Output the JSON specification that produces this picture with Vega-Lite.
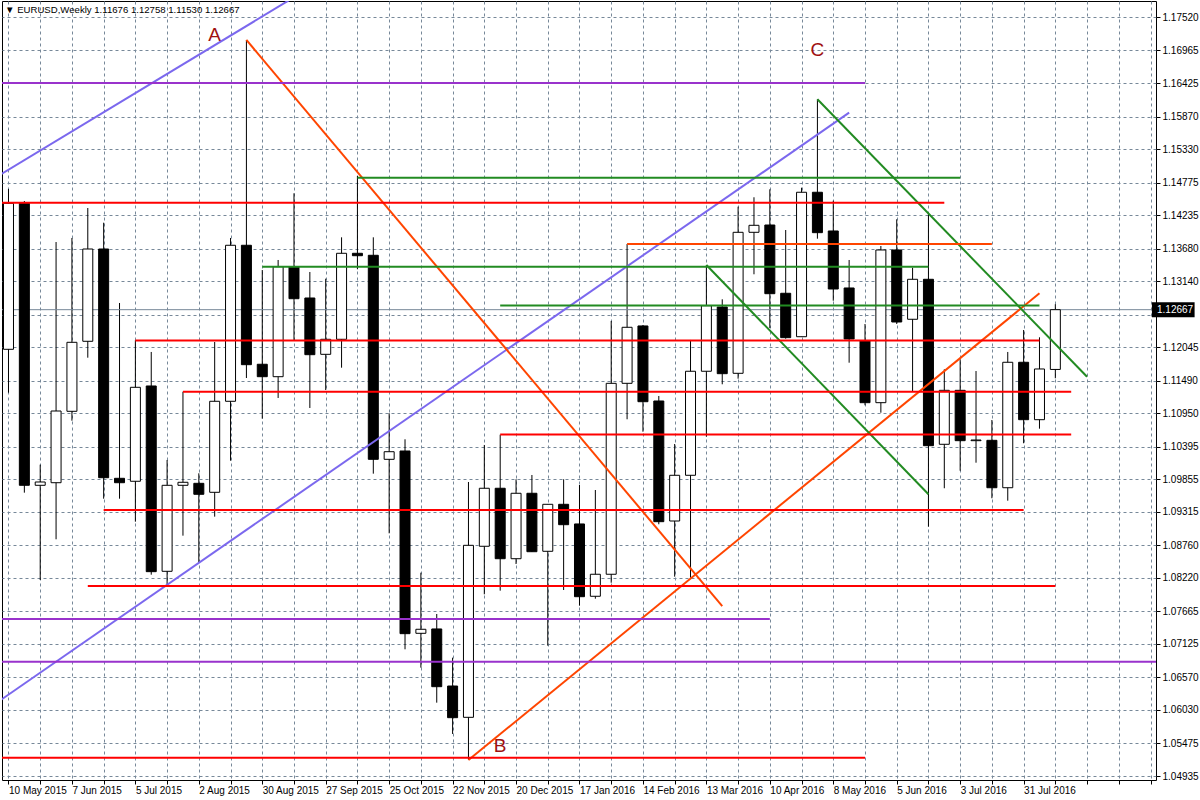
{
  "$schema": "https://vega.github.io/schema/vega-lite/v6.json",
  "width": 1154,
  "height": 779,
  "autosize": {"type": "none"},
  "padding": {"left": 2, "top": 1, "right": 44, "bottom": 20},
  "background": "white",
  "title": {
    "text": "▼ EURUSD,Weekly  1.11676 1.12758 1.11530 1.12667",
    "anchor": "start",
    "frame": "group",
    "orient": "top",
    "offset": -14,
    "dx": 3,
    "font": "Liberation Sans",
    "fontSize": 9.6,
    "fontWeight": "normal",
    "color": "black"
  },
  "datasets": {
    "candles": [
      {"d": "2015-05-10", "o": 1.12010, "h": 1.14668, "l": 1.11291, "c": 1.14431},
      {"d": "2015-05-17", "o": 1.14441, "h": 1.14469, "l": 1.09633, "c": 1.09755},
      {"d": "2015-05-24", "o": 1.09755, "h": 1.10097, "l": 1.08185, "c": 1.09810},
      {"d": "2015-05-31", "o": 1.09798, "h": 1.13789, "l": 1.08860, "c": 1.10987},
      {"d": "2015-06-07", "o": 1.10982, "h": 1.13856, "l": 1.10826, "c": 1.12126},
      {"d": "2015-06-14", "o": 1.12143, "h": 1.14353, "l": 1.11871, "c": 1.13673},
      {"d": "2015-06-21", "o": 1.13673, "h": 1.14109, "l": 1.09533, "c": 1.09881},
      {"d": "2015-06-28", "o": 1.09871, "h": 1.12778, "l": 1.09533, "c": 1.09798},
      {"d": "2015-07-05", "o": 1.09822, "h": 1.12160, "l": 1.09152, "c": 1.11380},
      {"d": "2015-07-12", "o": 1.11402, "h": 1.11966, "l": 1.08273, "c": 1.08323},
      {"d": "2015-07-19", "o": 1.08329, "h": 1.10175, "l": 1.08102, "c": 1.09755},
      {"d": "2015-07-26", "o": 1.09755, "h": 1.11307, "l": 1.08920, "c": 1.09805},
      {"d": "2015-08-02", "o": 1.09788, "h": 1.09954, "l": 1.08472, "c": 1.09606},
      {"d": "2015-08-09", "o": 1.09639, "h": 1.12131, "l": 1.09235, "c": 1.11148},
      {"d": "2015-08-16", "o": 1.11148, "h": 1.13856, "l": 1.10163, "c": 1.13735},
      {"d": "2015-08-23", "o": 1.13735, "h": 1.17139, "l": 1.11534, "c": 1.11755},
      {"d": "2015-08-30", "o": 1.11762, "h": 1.13325, "l": 1.10860, "c": 1.11556},
      {"d": "2015-09-06", "o": 1.11556, "h": 1.13491, "l": 1.11203, "c": 1.13380},
      {"d": "2015-09-13", "o": 1.13380, "h": 1.14597, "l": 1.12165, "c": 1.12849},
      {"d": "2015-09-20", "o": 1.12861, "h": 1.13292, "l": 1.11037, "c": 1.11921},
      {"d": "2015-09-27", "o": 1.11927, "h": 1.13181, "l": 1.11335, "c": 1.12176},
      {"d": "2015-10-04", "o": 1.12176, "h": 1.13867, "l": 1.11705, "c": 1.13602},
      {"d": "2015-10-11", "o": 1.13602, "h": 1.14884, "l": 1.13337, "c": 1.13562},
      {"d": "2015-10-18", "o": 1.13569, "h": 1.13867, "l": 1.09948, "c": 1.10186},
      {"d": "2015-10-25", "o": 1.10186, "h": 1.10949, "l": 1.08959, "c": 1.10312},
      {"d": "2015-11-01", "o": 1.10324, "h": 1.10518, "l": 1.07036, "c": 1.07295},
      {"d": "2015-11-08", "o": 1.07301, "h": 1.08306, "l": 1.06731, "c": 1.07368},
      {"d": "2015-11-15", "o": 1.07373, "h": 1.07621, "l": 1.06151, "c": 1.06416},
      {"d": "2015-11-22", "o": 1.06427, "h": 1.06897, "l": 1.05632, "c": 1.05902},
      {"d": "2015-11-29", "o": 1.05908, "h": 1.09810, "l": 1.05200, "c": 1.08760},
      {"d": "2015-12-06", "o": 1.08744, "h": 1.10424, "l": 1.07948, "c": 1.09706},
      {"d": "2015-12-13", "o": 1.09706, "h": 1.10594, "l": 1.08008, "c": 1.08538},
      {"d": "2015-12-20", "o": 1.08538, "h": 1.09855, "l": 1.08450, "c": 1.09623},
      {"d": "2015-12-27", "o": 1.09623, "h": 1.09926, "l": 1.08649, "c": 1.08654},
      {"d": "2016-01-03", "o": 1.08661, "h": 1.09440, "l": 1.07096, "c": 1.09440},
      {"d": "2016-01-10", "o": 1.09440, "h": 1.09855, "l": 1.08019, "c": 1.09102},
      {"d": "2016-01-17", "o": 1.09114, "h": 1.09760, "l": 1.07759, "c": 1.07908},
      {"d": "2016-01-24", "o": 1.07915, "h": 1.09677, "l": 1.07875, "c": 1.08280},
      {"d": "2016-01-31", "o": 1.08280, "h": 1.12480, "l": 1.08140, "c": 1.11446},
      {"d": "2016-02-07", "o": 1.11446, "h": 1.13756, "l": 1.10850, "c": 1.12375},
      {"d": "2016-02-14", "o": 1.12397, "h": 1.12413, "l": 1.10644, "c": 1.11141},
      {"d": "2016-02-21", "o": 1.11153, "h": 1.11236, "l": 1.09109, "c": 1.09152},
      {"d": "2016-02-28", "o": 1.09163, "h": 1.10440, "l": 1.08240, "c": 1.09921},
      {"d": "2016-03-06", "o": 1.09921, "h": 1.12165, "l": 1.08223, "c": 1.11646},
      {"d": "2016-03-13", "o": 1.11646, "h": 1.13408, "l": 1.10561, "c": 1.12733},
      {"d": "2016-03-20", "o": 1.12712, "h": 1.12839, "l": 1.11430, "c": 1.11606},
      {"d": "2016-03-27", "o": 1.11612, "h": 1.14375, "l": 1.11523, "c": 1.13950},
      {"d": "2016-04-03", "o": 1.13950, "h": 1.14531, "l": 1.13254, "c": 1.14066},
      {"d": "2016-04-10", "o": 1.14071, "h": 1.14663, "l": 1.12363, "c": 1.12932},
      {"d": "2016-04-17", "o": 1.12939, "h": 1.13988, "l": 1.12186, "c": 1.12203},
      {"d": "2016-04-24", "o": 1.12219, "h": 1.14690, "l": 1.12219, "c": 1.14614},
      {"d": "2016-05-01", "o": 1.14614, "h": 1.16156, "l": 1.13844, "c": 1.13944},
      {"d": "2016-05-08", "o": 1.13972, "h": 1.14474, "l": 1.12816, "c": 1.13010},
      {"d": "2016-05-15", "o": 1.13027, "h": 1.13491, "l": 1.11788, "c": 1.12181},
      {"d": "2016-05-22", "o": 1.12148, "h": 1.12430, "l": 1.11082, "c": 1.11125},
      {"d": "2016-05-29", "o": 1.11125, "h": 1.13723, "l": 1.10959, "c": 1.13657},
      {"d": "2016-06-05", "o": 1.13657, "h": 1.14166, "l": 1.12430, "c": 1.12463},
      {"d": "2016-06-12", "o": 1.12508, "h": 1.13363, "l": 1.11307, "c": 1.13171},
      {"d": "2016-06-19", "o": 1.13171, "h": 1.14275, "l": 1.09069, "c": 1.10412},
      {"d": "2016-06-26", "o": 1.10435, "h": 1.11679, "l": 1.09706, "c": 1.11330},
      {"d": "2016-07-03", "o": 1.11330, "h": 1.11845, "l": 1.09997, "c": 1.10495},
      {"d": "2016-07-10", "o": 1.10495, "h": 1.11650, "l": 1.10130, "c": 1.10506},
      {"d": "2016-07-17", "o": 1.10501, "h": 1.10838, "l": 1.09540, "c": 1.09715},
      {"d": "2016-07-24", "o": 1.09715, "h": 1.11966, "l": 1.09500, "c": 1.11795},
      {"d": "2016-07-31", "o": 1.11795, "h": 1.12330, "l": 1.10452, "c": 1.10843},
      {"d": "2016-08-07", "o": 1.10843, "h": 1.12209, "l": 1.10694, "c": 1.11684},
      {"d": "2016-08-14", "o": 1.11676, "h": 1.12758, "l": 1.11530, "c": 1.12667}
    ],
    "segments": [
      {"t1": "2015-05-03", "p1": 1.14829, "t2": "2015-09-27", "p2": 1.18165, "g": "blue"},
      {"t1": "2015-05-03", "p1": 1.06102, "t2": "2016-05-15", "p2": 1.15935, "g": "blue"},
      {"t1": "2015-08-23", "p1": 1.17139, "t2": "2016-03-20", "p2": 1.07751, "g": "orangered"},
      {"t1": "2015-11-29", "p1": 1.05200, "t2": "2016-08-07", "p2": 1.12939, "g": "orangered"},
      {"t1": "2016-05-01", "p1": 1.16156, "t2": "2016-08-28", "p2": 1.11556, "g": "green"},
      {"t1": "2016-03-13", "p1": 1.13408, "t2": "2016-06-19", "p2": 1.09606, "g": "green"},
      {"t1": "2015-05-03", "p1": 1.14441, "t2": "2016-06-26", "p2": 1.14441, "g": "red"},
      {"t1": "2015-07-05", "p1": 1.12155, "t2": "2016-08-07", "p2": 1.12155, "g": "red"},
      {"t1": "2015-07-26", "p1": 1.11307, "t2": "2016-08-21", "p2": 1.11307, "g": "red"},
      {"t1": "2015-12-13", "p1": 1.10596, "t2": "2016-08-21", "p2": 1.10596, "g": "red"},
      {"t1": "2015-06-21", "p1": 1.09346, "t2": "2016-07-31", "p2": 1.09346, "g": "red"},
      {"t1": "2015-06-14", "p1": 1.08086, "t2": "2016-08-14", "p2": 1.08086, "g": "red"},
      {"t1": "2015-05-03", "p1": 1.05239, "t2": "2016-05-22", "p2": 1.05239, "g": "red"},
      {"t1": "2016-02-07", "p1": 1.13756, "t2": "2016-07-17", "p2": 1.13756, "g": "orangered"},
      {"t1": "2015-10-11", "p1": 1.14856, "t2": "2016-07-03", "p2": 1.14856, "g": "green"},
      {"t1": "2015-08-30", "p1": 1.13380, "t2": "2016-06-19", "p2": 1.13380, "g": "green"},
      {"t1": "2015-12-13", "p1": 1.12735, "t2": "2016-08-07", "p2": 1.12735, "g": "green"},
      {"t1": "2015-05-03", "p1": 1.16426, "t2": "2016-05-22", "p2": 1.16426, "g": "purple"},
      {"t1": "2015-05-03", "p1": 1.07538, "t2": "2016-04-10", "p2": 1.07538, "g": "purple"},
      {"t1": "2015-05-03", "p1": 1.06830, "t2": "2016-10-16", "p2": 1.06830, "g": "purple"}
    ],
    "labels": [
      {"t": "2015-08-09", "p": 1.17222, "txt": "A"},
      {"t": "2015-12-13", "p": 1.05433, "txt": "B"},
      {"t": "2016-05-01", "p": 1.16981, "txt": "C"}
    ],
    "bid": [{"p": 1.12667, "txt": "1.12667"}]
  },
  "layer": [
    {
      "data": {"name": "candles"},
      "mark": {"type": "rule", "color": "black", "strokeWidth": 1, "clip": true},
      "encoding": {
        "x": {
          "field": "d",
          "type": "temporal",
          "scale": {"type": "utc", "domain": [1431159300000, 1474780500000], "nice": false},
          "axis": {
            "orient": "bottom",
            "title": null,
            "tickCount": 60,
            "values": [1431216000000, 1432425600000, 1433635200000, 1434844800000, 1436054400000, 1437264000000, 1438473600000, 1439683200000, 1440892800000, 1442102400000, 1443312000000, 1444521600000, 1445731200000, 1446940800000, 1448150400000, 1449360000000, 1450569600000, 1451779200000, 1452988800000, 1454198400000, 1455408000000, 1456617600000, 1457827200000, 1459036800000, 1460246400000, 1461456000000, 1462665600000, 1463875200000, 1465084800000, 1466294400000, 1467504000000, 1468713600000, 1469923200000, 1471132800000, 1472342400000, 1473552000000, 1474761600000],
            "labelExpr": "(round((datum.value - 1431216000000) / 604800000) % 4 == 0 && datum.value <= 1469923200000) ? utcFormat(datum.value, '%-d %b %Y') : ''",
            "labelAlign": "left",
            "labelBaseline": "top",
            "labelPadding": 1,
            "labelFlush": false,
            "labelOverlap": false,
            "tickSize": 4
          }
        },
        "y": {
          "field": "l",
          "type": "quantitative",
          "scale": {"domain": [1.048687, 1.177853], "zero": false, "nice": false},
          "axis": {
            "orient": "right",
            "title": null,
            "tickCount": 40,
            "values": [1.17520, 1.16965, 1.16425, 1.15870, 1.15330, 1.14775, 1.14235, 1.13680, 1.13140, 1.12585, 1.12045, 1.11490, 1.10950, 1.10395, 1.09855, 1.09315, 1.08760, 1.08220, 1.07665, 1.07125, 1.06570, 1.06030, 1.05475, 1.04935],
            "labelExpr": "datum.value == 1.12585 ? '' : format(datum.value, '.5f')",
            "labelAlign": "left",
            "labelBaseline": "middle",
            "labelPadding": 2,
            "labelFlush": false,
            "labelOverlap": false,
            "tickSize": 4
          }
        },
        "y2": {"field": "h"}
      }
    },
    {
      "data": {"name": "bid"},
      "mark": {"type": "rule", "color": "#778899", "strokeWidth": 1},
      "encoding": {
        "y": {"field": "p", "type": "quantitative"}
      }
    },
    {
      "data": {"name": "candles"},
      "mark": {"type": "bar", "width": 10, "stroke": "black", "strokeWidth": 1, "clip": true},
      "encoding": {
        "x": {"field": "d", "type": "temporal"},
        "y": {"field": "o", "type": "quantitative"},
        "y2": {"field": "c"},
        "fill": {
          "condition": {"test": "datum.c >= datum.o", "value": "white"},
          "value": "black"
        }
      }
    },
    {
      "data": {"name": "segments"},
      "mark": {"type": "rule", "strokeWidth": 2, "clip": true},
      "encoding": {
        "x": {"field": "t1", "type": "temporal"},
        "x2": {"field": "t2"},
        "y": {"field": "p1", "type": "quantitative"},
        "y2": {"field": "p2"},
        "color": {
          "field": "g",
          "type": "nominal",
          "scale": {"domain": ["red", "orangered", "green", "purple", "blue"], "range": ["#FF0000", "#FF4500", "#228B22", "#9932CC", "#7B68EE"]},
          "legend": null
        }
      }
    },
    {
      "data": {"name": "labels"},
      "mark": {"type": "text", "font": "Liberation Sans", "fontSize": 19, "color": "#A01010", "align": "center", "baseline": "middle"},
      "encoding": {
        "x": {"field": "t", "type": "temporal"},
        "y": {"field": "p", "type": "quantitative"},
        "text": {"field": "txt"}
      }
    },
    {
      "data": {"name": "bid"},
      "mark": {"type": "rect", "color": "black", "yOffset": -7.5, "y2Offset": 7.5},
      "encoding": {
        "x": {"datum": {"year": 2016, "month": 9, "date": 25, "hours": 15, "utc": true}, "type": "temporal"},
        "x2": {"datum": {"year": 2016, "month": 10, "date": 14, "hours": 11, "utc": true}},
        "y": {"field": "p", "type": "quantitative"},
        "y2": {"field": "p"}
      }
    },
    {
      "data": {"name": "bid"},
      "mark": {"type": "text", "font": "Liberation Sans", "fontSize": 10, "color": "white", "align": "left", "baseline": "middle"},
      "encoding": {
        "x": {"datum": {"year": 2016, "month": 9, "date": 27, "hours": 21, "utc": true}, "type": "temporal"},
        "y": {"field": "p", "type": "quantitative"},
        "text": {"field": "txt"}
      }
    }
  ],
  "config": {
    "view": {"stroke": "black", "strokeWidth": 1},
    "axis": {
      "labelFont": "Liberation Sans",
      "labelFontSize": 10,
      "labelColor": "black",
      "tickColor": "black",
      "tickWidth": 1,
      "domain": false,
      "grid": true,
      "gridColor": "#778899",
      "gridDash": [3, 3],
      "gridWidth": 1,
      "gridOpacity": 1,
      "labelOverlap": false
    }
  }
}
